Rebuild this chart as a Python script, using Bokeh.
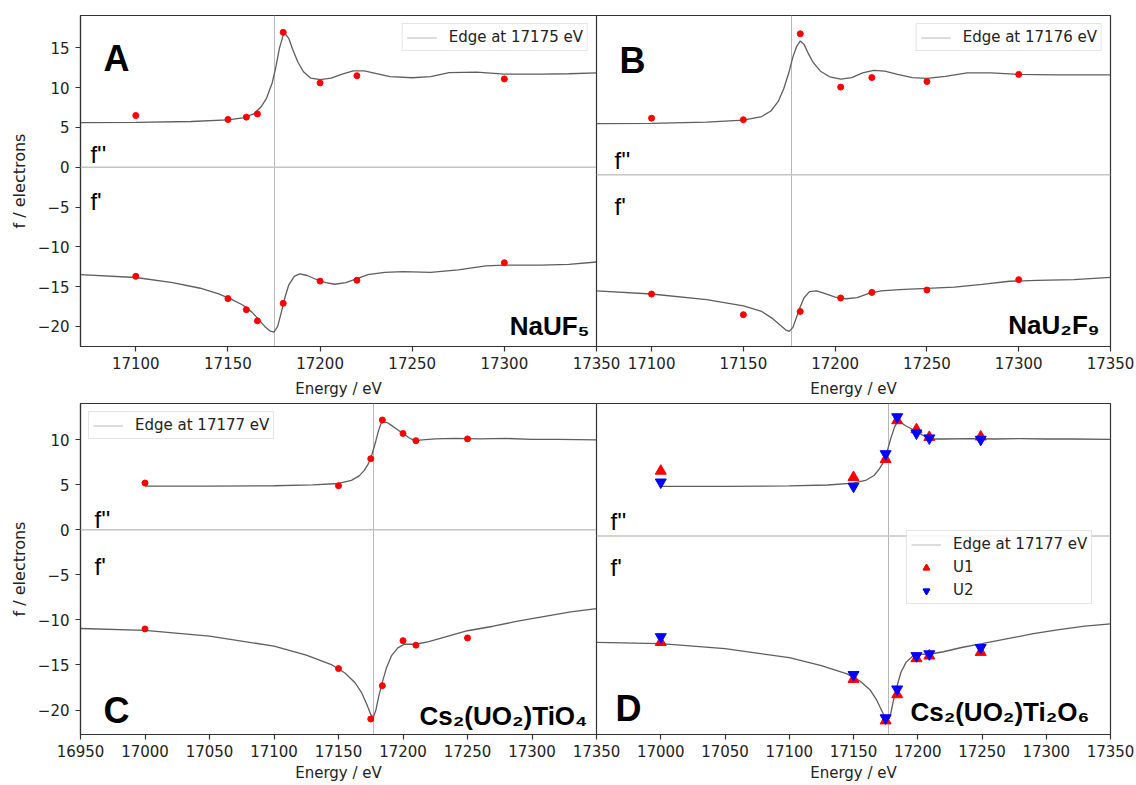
from bokeh.plotting import figure
from bokeh.models import Range1d, Span, Label
from bokeh.layouts import column, row
from bokeh.embed import file_html
from bokeh.resources import INLINE

# ---------------- Panel A : NaUF5 ----------------
a_curve_fpp_E = [17070, 17100, 17130, 17150, 17158, 17164, 17168, 17171, 17174, 17176,
                 17178, 17180, 17181, 17183, 17185, 17188, 17191, 17195, 17200, 17206,
                 17212, 17218, 17224, 17230, 17238, 17250, 17260, 17270, 17285, 17300,
                 17320, 17335, 17350]
a_curve_fpp = [5.6, 5.65, 5.75, 5.95, 6.2, 6.7, 7.6, 8.7, 10.6, 12.6,
               15.0, 16.6, 16.8, 16.2, 14.9, 13.2, 12.0, 11.2, 11.0, 11.2,
               11.7, 12.1, 12.1, 11.8, 11.4, 11.25, 11.4, 11.9, 11.95, 11.7,
               11.7, 11.75, 11.85]
a_curve_fp_E = [17070, 17100, 17120, 17135, 17145, 17152, 17158, 17163, 17167, 17170,
                17173, 17175, 17177, 17179, 17181, 17183, 17186, 17189, 17193, 17198,
                17203, 17208, 17214, 17220, 17226, 17235, 17245, 17260, 17275, 17290,
                17300, 17320, 17335, 17350]
a_curve_fp = [-13.5, -13.85, -14.5, -15.2, -15.9, -16.6, -17.3, -18.2, -19.2, -20.0,
              -20.6, -20.7, -20.0, -18.2, -16.3, -14.8, -13.7, -13.4, -13.6, -14.1,
              -14.5, -14.7, -14.5, -14.0, -13.5, -13.2, -13.1, -13.2, -12.9, -12.4,
              -12.3, -12.3, -12.2, -11.9]
a_pts_E = [17100, 17150, 17160, 17166, 17180, 17200, 17220, 17300]
a_pts_fpp = [6.5, 6.0, 6.3, 6.7, 16.95, 10.6, 11.5, 11.1]
a_pts_fp = [-13.7, -16.5, -17.9, -19.3, -17.1, -14.3, -14.2, -12.0]
a_edge = [17175]

# ---------------- Panel B : NaU2F9 ----------------
b_curve_fpp_E = [17070, 17100, 17130, 17150, 17160, 17165, 17169, 17172, 17175, 17177,
                 17179, 17181, 17183, 17185, 17188, 17192, 17197, 17203, 17209, 17215,
                 17221, 17227, 17234, 17242, 17250, 17260, 17272, 17285, 17300, 17320,
                 17350]
b_curve_fpp = [6.4, 6.45, 6.6, 6.85, 7.3, 8.0, 9.2, 10.8, 13.0, 14.8,
               16.1, 16.8, 16.4, 15.4, 14.1, 13.0, 12.3, 12.0, 12.2, 12.8,
               13.1, 13.0, 12.6, 12.2, 12.1, 12.35, 12.8, 12.8, 12.6, 12.55,
               12.55]
b_curve_fp_E = [17070, 17100, 17130, 17150, 17160, 17166, 17170, 17173, 17175, 17177,
                17179, 17181, 17183, 17186, 17190, 17195, 17200, 17206, 17212, 17218,
                17225, 17235, 17250, 17265, 17280, 17295, 17310, 17330, 17350]
b_curve_fp = [-14.6, -15.0, -15.7, -16.5, -17.2, -18.1, -18.9, -19.5, -19.7, -19.2,
              -17.9, -16.6, -15.5, -14.7, -14.6, -15.0, -15.4, -15.6, -15.45, -14.95,
              -14.6, -14.45, -14.3, -14.15, -13.8, -13.4, -13.3, -13.2, -12.9]
b_pts_E = [17100, 17150, 17181, 17203, 17220, 17250, 17300]
b_pts_fpp = [7.1, 6.9, 17.7, 11.0, 12.2, 11.7, 12.6]
b_pts_fp = [-15.0, -17.6, -17.2, -15.5, -14.8, -14.5, -13.2]
b_edge = [17176]

# ---------------- Panel C : Cs2(UO2)TiO4 ----------------
c_curve_fpp_E = [17000, 17050, 17100, 17130, 17150, 17160, 17166, 17170, 17173, 17176,
                 17179, 17181, 17183, 17185, 17188, 17191, 17195, 17200, 17205, 17209,
                 17215, 17225, 17240, 17260, 17280, 17300, 17320, 17350]
c_curve_fpp = [4.85, 4.85, 4.9, 5.0, 5.15, 5.5, 6.0, 6.6, 7.3, 8.4,
               9.9, 11.0, 11.8, 12.0, 11.9, 11.6, 11.2, 10.7, 10.2, 9.9,
               10.0, 10.1, 10.15, 10.1, 10.15, 10.05, 10.05, 10.0]
c_curve_fp_E = [16950, 17000, 17050, 17100, 17125, 17145, 17155, 17163, 17168, 17172,
                17175, 17177, 17179, 17181, 17184, 17187, 17191, 17196, 17201, 17210,
                17220, 17235, 17250, 17270, 17290, 17310, 17330, 17350]
c_curve_fp = [-10.95, -11.15, -11.8, -12.9, -13.9, -15.0, -15.9, -17.0, -18.1, -19.4,
              -20.5, -20.8, -20.0, -18.6, -16.9, -15.4, -14.0, -13.1, -12.7, -12.7,
              -12.4, -11.8, -11.2, -10.7, -10.1, -9.6, -9.1, -8.75]
c_pts_E = [17000, 17150, 17175, 17184, 17200, 17210, 17250]
c_pts_fpp = [5.2, 4.9, 7.9, 12.2, 10.7, 9.9, 10.1]
c_pts_fp = [-11.0, -15.4, -21.0, -17.3, -12.3, -12.8, -12.0]
c_edge = [17177]

# ---------------- Panel D : Cs2(UO2)Ti2O6 ----------------
d_curve_fpp_E = [17000, 17050, 17100, 17130, 17150, 17160, 17166, 17170, 17173, 17176,
                 17179, 17182, 17184, 17187, 17191, 17196, 17201, 17206, 17210, 17220,
                 17240, 17260, 17280, 17300, 17320, 17350]
d_curve_fpp = [5.5, 5.5, 5.55, 5.65, 5.85, 6.2, 6.7, 7.4, 8.1, 9.3,
               10.8, 12.1, 12.6, 12.55, 12.2, 11.8, 11.4, 11.0, 10.75, 10.75,
               10.8, 10.75, 10.8, 10.75, 10.75, 10.7]
d_curve_fp_E = [16950, 17000, 17050, 17100, 17125, 17145, 17155, 17163, 17168, 17172,
                17175, 17177, 17179, 17181, 17184, 17187, 17191, 17196, 17201, 17210,
                17220, 17235, 17250, 17270, 17290, 17310, 17330, 17350]
d_curve_fp = [-11.8, -11.95, -12.5, -13.5, -14.4, -15.3, -16.1, -17.1, -18.2, -19.4,
              -20.3, -20.5, -19.7, -18.3, -16.6, -15.1, -14.0, -13.35, -13.15, -13.1,
              -12.85, -12.35, -11.95, -11.4, -10.85, -10.4, -10.0, -9.75]
d_pts_E = [17000, 17150, 17175, 17184, 17199, 17209, 17249]
d_u1_fpp = [7.2, 6.5, 8.5, 12.8, 11.8, 10.95, 11.0]
d_u2_fpp = [5.96, 5.5, 9.1, 13.2, 11.4, 10.85, 10.7]
d_u1_fp = [-11.8, -15.9, -20.5, -17.6, -13.6, -13.3, -12.9]
d_u2_fp = [-11.2, -15.4, -20.2, -17.0, -13.3, -13.1, -12.4]
d_edge = [17177]

# ---------------- axes ----------------
xticks_top = [17100, 17150, 17200, 17250, 17300, 17350]
xticks_c = [16950, 17000, 17050, 17100, 17150, 17200, 17250, 17300, 17350]
xticks_d = [17000, 17050, 17100, 17150, 17200, 17250, 17300, 17350]
yticks_top = [-20, -15, -10, -5, 0, 5, 10, 15]
yticks_bottom = [-20, -15, -10, -5, 0, 5, 10]

CURVE = "#5e5e5e"
EDGE = "#b8b8b8"
AXC = "#333333"
TXT = "#222222"


def make_panel(xr, yr, width, height, left, right, top, bottom, xticks, yticks=None, xlabel_standoff=2):
    kw = dict(width=width, height=height, x_range=Range1d(*xr), y_range=Range1d(*yr),
              output_backend="svg", toolbar_location=None,
              min_border_left=left, min_border_right=right,
              min_border_top=top, min_border_bottom=bottom)
    if yticks is None:
        kw["y_axis_location"] = None
    p = figure(**kw)
    p.grid.visible = False
    p.outline_line_color = AXC
    p.outline_line_width = 1.2
    p.outline_line_alpha = 1
    p.border_fill_alpha = 0
    axes = list(p.xaxis) + (list(p.yaxis) if yticks is not None else [])
    for ax in axes:
        ax.axis_line_color = AXC
        ax.axis_line_width = 1.2
        ax.major_tick_line_color = AXC
        ax.major_tick_line_width = 1.2
        ax.major_tick_out = 5
        ax.major_tick_in = 0
        ax.minor_tick_out = 0
        ax.minor_tick_in = 0
        ax.major_label_text_font = "DejaVu Sans"
        ax.major_label_text_font_size = "15px"
        ax.major_label_text_color = TXT
        ax.axis_label_text_font = "DejaVu Sans"
        ax.axis_label_text_font_style = "normal"
        ax.axis_label_text_color = TXT
    p.xaxis.ticker = xticks
    p.xaxis.axis_label = "Energy / eV"
    p.xaxis.axis_label_text_font_size = "15px"
    p.xaxis.major_label_standoff = 5
    p.xaxis.axis_label_standoff = xlabel_standoff
    if yticks is not None:
        p.yaxis.ticker = yticks
        p.yaxis.major_label_overrides = {v: str(v).replace("-", "\u2212") for v in yticks}
        p.yaxis.axis_label = "f / electrons"
        p.yaxis.axis_label_text_font_size = "16px"
        p.yaxis.major_label_standoff = 6
        p.yaxis.axis_label_standoff = 6
    p.add_layout(Span(location=0, dimension="width", line_color="#c4c4c4", line_width=1.5))
    return p


def draw_curves(p, e1, f1, e2, f2, edge):
    p.vspan(x=edge, line_color=EDGE, line_width=1, legend_label=f"Edge at {edge[0]} eV")
    p.line(e1, f1, line_color=CURVE, line_width=1.3)
    p.line(e2, f2, line_color=CURVE, line_width=1.3)


def add_text(p, x, y, text, size, bold=False, align="left"):
    p.add_layout(Label(x=x, y=y, text=text, text_font="Liberation Sans",
                       text_font_size=f"{size}px",
                       text_font_style="bold" if bold else "normal",
                       text_align=align, text_baseline="alphabetic", text_color="black"))


def style_legend(p):
    lg = p.legend[0]
    lg.label_text_font = "DejaVu Sans"
    lg.label_text_font_size = "15px"
    lg.label_text_color = TXT
    lg.glyph_width = 30
    lg.glyph_height = 17
    lg.label_standoff = 12
    lg.label_height = 17
    lg.padding = 4
    lg.spacing = 5
    lg.margin = 8
    lg.border_line_color = "#cccccc"
    lg.border_line_width = 1
    lg.background_fill_alpha = 0.85
    return lg


OVER = 24
# top row: border 15 + frame 334 + border 51 ; bottom row: 3 + 333 + 48
TOP_H, BOT_H = 400, 384
LEFT_W = 80 + 516 + OVER
RIGHT_W = 514 + 24

# ---- A ----
pA = make_panel((17070, 17350), (-22.52, 19.07), LEFT_W, TOP_H, 80, OVER, 15, 51, xticks_top, yticks_top, 8)
draw_curves(pA, a_curve_fpp_E, a_curve_fpp, a_curve_fp_E, a_curve_fp, a_edge)
pA.scatter(a_pts_E, a_pts_fpp, size=6, color="red")
pA.scatter(a_pts_E, a_pts_fp, size=6, color="red")
add_text(pA, 17082.5, 13.7, "A", 36, bold=True)
add_text(pA, 17075.4, 1.6, "f''", 24)
add_text(pA, 17075.4, -4.3, "f'", 24)
add_text(pA, 17346.2, -19.9, "NaUF\u2085", 26, bold=True, align="right")
lg = style_legend(pA)
lg.location = "top_right"

# ---- B ----
pB = make_panel((17070, 17350), (-21.6, 20.0), RIGHT_W, TOP_H, 0, 24, 15, 51, xticks_top, None, 8)
pB.margin = (0, 0, 0, -OVER)
draw_curves(pB, b_curve_fpp_E, b_curve_fpp, b_curve_fp_E, b_curve_fp, b_edge)
pB.scatter(b_pts_E, b_pts_fpp, size=6, color="red")
pB.scatter(b_pts_E, b_pts_fp, size=6, color="red")
add_text(pB, 17082.5, 14.4, "B", 36, bold=True)
add_text(pB, 17079.8, 1.8, "f''", 24)
add_text(pB, 17079.8, -4.0, "f'", 24)
add_text(pB, 17344.0, -18.9, "NaU\u2082F\u2089", 26, bold=True, align="right")
lg = style_legend(pB)
lg.location = "top_right"

# ---- C ----
pC = make_panel((16950, 17350), (-22.72, 14.03), LEFT_W, BOT_H, 80, OVER, 3, 48, xticks_c, yticks_bottom, 4)
draw_curves(pC, c_curve_fpp_E, c_curve_fpp, c_curve_fp_E, c_curve_fp, c_edge)
pC.scatter(c_pts_E, c_pts_fpp, size=6, color="red")
pC.scatter(c_pts_E, c_pts_fp, size=6, color="red")
add_text(pC, 16967.9, -20.1, "C", 36, bold=True)
add_text(pC, 16960.9, 1.1, "f''", 24)
add_text(pC, 16960.9, -4.1, "f'", 24)
add_text(pC, 17343.0, -20.7, "Cs\u2082(UO\u2082)TiO\u2084", 26, bold=True, align="right")
lg = style_legend(pC)
lg.location = "top_left"

# ---- D ----
pD = make_panel((16950, 17350), (-22.03, 14.69), RIGHT_W, BOT_H, 0, 24, 3, 48, xticks_d, None, 4)
pD.margin = (0, 0, 0, -OVER)
draw_curves(pD, d_curve_fpp_E, d_curve_fpp, d_curve_fp_E, d_curve_fp, d_edge)
pD.scatter(d_pts_E, d_u1_fpp, marker="triangle", size=11, color="red", legend_label="U1")
pD.scatter(d_pts_E, d_u1_fp, marker="triangle", size=11, color="red", legend_label="U1")
pD.scatter(d_pts_E, d_u2_fpp, marker="inverted_triangle", size=11, color="blue", legend_label="U2")
pD.scatter(d_pts_E, d_u2_fp, marker="inverted_triangle", size=11, color="blue", legend_label="U2")
add_text(pD, 16964.8, -19.15, "D", 36, bold=True)
add_text(pD, 16960.9, 1.6, "f''", 24)
add_text(pD, 16960.9, -3.5, "f'", 24)
add_text(pD, 17333.5, -19.5, "Cs\u2082(UO\u2082)Ti\u2082O\u2086", 26, bold=True, align="right")
lg = style_legend(pD)
lg.location = (310, 130)

layout = column(row(pA, pB), row(pC, pD))

open("out.html", "w").write(file_html(layout, INLINE))
